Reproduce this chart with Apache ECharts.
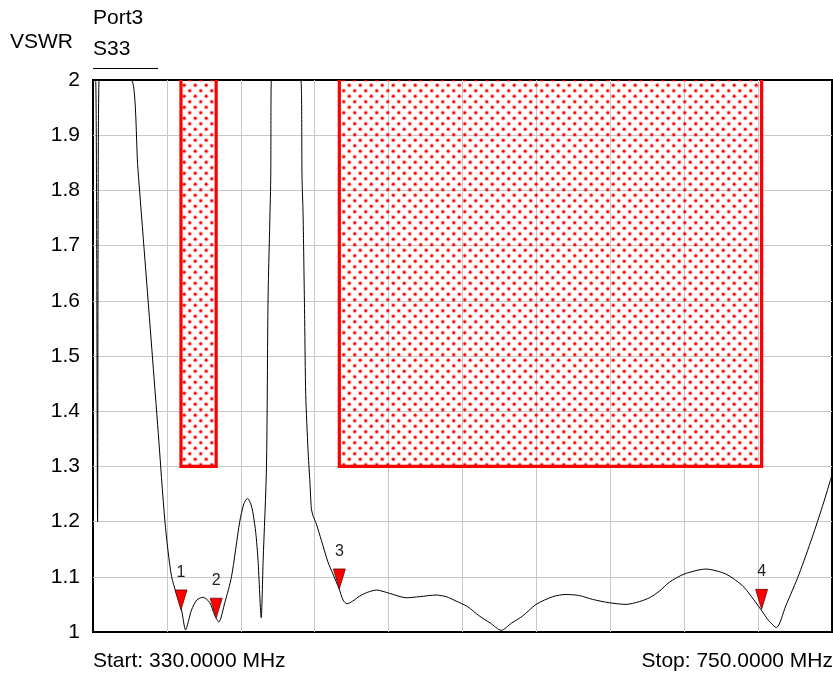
<!DOCTYPE html>
<html><head><meta charset="utf-8">
<script src="https://cdn.jsdelivr.net/npm/echarts@6/dist/echarts.min.js"></script>
<style>html,body{margin:0;padding:0;background:#fff}#chart{width:833px;height:678px}</style>
</head><body><div id="chart"></div>
<script>
// ---- data ----
const freqMHz = [330, 331.5, 332.6, 333.5, 342, 351.7, 355.5, 359.5, 363.5, 367.1, 370.9, 374.7, 380.3, 382.6, 386.0, 389.0, 392.6, 396.4, 399.2, 401.5, 404.9, 408.7, 413.4, 415.7, 417.8, 419.7, 421.0, 422.5, 423.8, 425.6, 426.7, 428.6, 429.5, 431.0, 431.4, 440, 448.1, 448.8, 449.4, 450.3, 450.9, 452.2, 453.2, 454.1, 455.0, 457.0, 459.8, 463.5, 466.4, 469.9, 472.1, 474.4, 477.6, 481.5, 486.1, 491.0, 498.6, 508.0, 515.6, 525.0, 530.7, 536.4, 542.8, 549.6, 555.9, 562.0, 567.8, 574.2, 581.8, 591.3, 598.9, 606.4, 614.0, 623.4, 632.9, 640.5, 646.2, 651.9, 657.5, 666.0, 678.3, 689.7, 699.1, 704.0, 709.5, 714.2, 718.4, 723.7, 731.3, 738.8, 744.5, 748.9, 750];
const vswr = [2.0, 2.0, 1.2, 2.0, 2.0, 2.0, 1.84, 1.675, 1.51, 1.36, 1.2, 1.1, 1.04, 1.004, 1.04, 1.058, 1.063, 1.053, 1.03, 1.018, 1.053, 1.10, 1.2, 1.232, 1.242, 1.232, 1.214, 1.18, 1.13, 1.026, 1.13, 1.30, 1.605, 1.82, 2.0, 2.0, 2.0, 1.824, 1.756, 1.566, 1.43, 1.33, 1.276, 1.224, 1.211, 1.195, 1.166, 1.127, 1.105, 1.078, 1.058, 1.051, 1.056, 1.065, 1.072, 1.076, 1.070, 1.062, 1.064, 1.067, 1.064, 1.056, 1.046, 1.029, 1.016, 1.003, 1.016, 1.029, 1.05, 1.064, 1.068, 1.066, 1.059, 1.053, 1.05, 1.055, 1.062, 1.074, 1.090, 1.105, 1.114, 1.105, 1.084, 1.065, 1.041, 1.020, 1.008, 1.047, 1.105, 1.172, 1.227, 1.273, 1.285];
const maskStartMHz = [380, 470];
const maskEndMHz = [400, 710];
const maskLimit = [1.3, 1.3];
const markerNames = ['1', '2', '3', '4'];
const markerMHz = [380, 400, 470, 710];
const markerVSWR = [1.04, 1.025, 1.078, 1.041];
const xMin = 330, xMax = 750;
const yMin = 1, yMax = 2, yStep = 0.1;
const xDivisions = 10;
const yName = 'VSWR';
const portName = 'Port3';
const traceName = 'S33';
const startLabel = 'Start: 330.0000 MHz';
const stopLabel = 'Stop: 750.0000 MHz';

// ---- styling ----
const FONT = '"Liberation Sans", Arial, sans-serif';
function dotPattern() {
  const c = document.createElement('canvas');
  c.width = 11; c.height = 11;
  const g = c.getContext('2d');
  [[2.75, 2.75], [8.25, 8.25]].forEach(([x, y]) => {
    g.fillStyle = 'rgba(255,0,0,0.35)';
    g.beginPath(); g.arc(x, y, 2.2, 0, Math.PI * 2); g.fill();
    g.fillStyle = '#ff0000';
    g.beginPath(); g.arc(x, y, 1.3, 0, Math.PI * 2); g.fill();
  });
  return c;
}
const pattern = { image: dotPattern(), repeat: 'repeat' };

const chart = echarts.init(document.getElementById('chart'), null, { renderer: 'canvas' });
const gridCol = '#c8c8c8';
chart.setOption({
  animation: false,
  grid: { left: 93, right: 1, top: 80, bottom: 46, show: true, borderColor: '#000', borderWidth: 2, backgroundColor: 'transparent' },
  xAxis: [
    { type: 'value', min: xMin, max: xMax, show: false },
    { type: 'value', min: 0, max: xDivisions, interval: 1, position: 'bottom',
      axisLine: { show: false }, axisTick: { show: false }, axisLabel: { show: false },
      splitLine: { show: true, showMinLine: false, showMaxLine: false, lineStyle: { color: gridCol, width: 1 } } }
  ],
  yAxis: [{
    type: 'value', min: yMin, max: yMax, interval: yStep,
    axisLine: { show: false }, axisTick: { show: false },
    axisLabel: { margin: 13, fontSize: 21, fontFamily: FONT, color: '#000' },
    splitLine: { show: true, showMinLine: false, showMaxLine: false, lineStyle: { color: gridCol, width: 1 } }
  }],
  graphic: [
    { type: 'text', x: 10, y: 42, style: { text: yName, font: '21px ' + FONT, fill: '#000', align: 'left', verticalAlign: 'middle' } },
    { type: 'text', x: 93, y: 18, style: { text: portName, font: '21px ' + FONT, fill: '#000', align: 'left', verticalAlign: 'middle' } },
    { type: 'text', x: 93, y: 49, style: { text: traceName, font: '21px ' + FONT, fill: '#000', align: 'left', verticalAlign: 'middle' } },
    { type: 'line', shape: { x1: 93, y1: 68.5, x2: 158, y2: 68.5 }, style: { stroke: '#000', lineWidth: 1 } },
    { type: 'text', x: 93, y: 661, style: { text: startLabel, font: '21px ' + FONT, fill: '#000', align: 'left', verticalAlign: 'middle' } },
    { type: 'text', x: 833, y: 661, style: { text: stopLabel, font: '21px ' + FONT, fill: '#000', align: 'right', verticalAlign: 'middle' } }
  ],
  series: [
    {
      type: 'custom', xAxisIndex: 0, yAxisIndex: 0, z: 2,
      data: maskStartMHz.map((s, i) => [s, maskEndMHz[i], maskLimit[i]]),
      renderItem(params, api) {
        const s = api.value(0), e = api.value(1), lim = api.value(2);
        const p0 = api.coord([s, yMax]), p1 = api.coord([s, lim]);
        const p2 = api.coord([e, lim]), p3 = api.coord([e, yMax]);
        return {
          type: 'group',
          children: [
            { type: 'polygon', shape: { points: [p0, p1, p2, p3] }, style: { fill: pattern, stroke: null } },
            { type: 'polyline', shape: { points: [p0, p1, p2, p3] }, style: { fill: null, stroke: '#ff0000', lineWidth: 3.2, lineJoin: 'miter' } }
          ]
        };
      }
    },
    {
      type: 'line', xAxisIndex: 0, yAxisIndex: 0, z: 3,
      data: freqMHz.map((f, i) => [f, vswr[i]]),
      showSymbol: false, symbol: 'none', clip: true,
      smooth: 0.25,
      lineStyle: { color: '#000', width: 1 }
    },
    {
      type: 'scatter', xAxisIndex: 0, yAxisIndex: 0, z: 4,
      data: markerMHz.map((f, i) => ({ name: markerNames[i], value: [f, markerVSWR[i]] })),
      symbol: 'path://M0,0 L10,0 L5,18 Z', symbolSize: [12, 20], symbolOffset: [0, '-50%'],
      itemStyle: { color: '#ff0000', borderColor: '#500', borderWidth: 0.7, opacity: 1 },
      label: { show: true, position: 'top', distance: 9, formatter: p => p.name, fontSize: 16, fontFamily: FONT, color: '#222' }
    }
  ]
});
</script></body></html>
